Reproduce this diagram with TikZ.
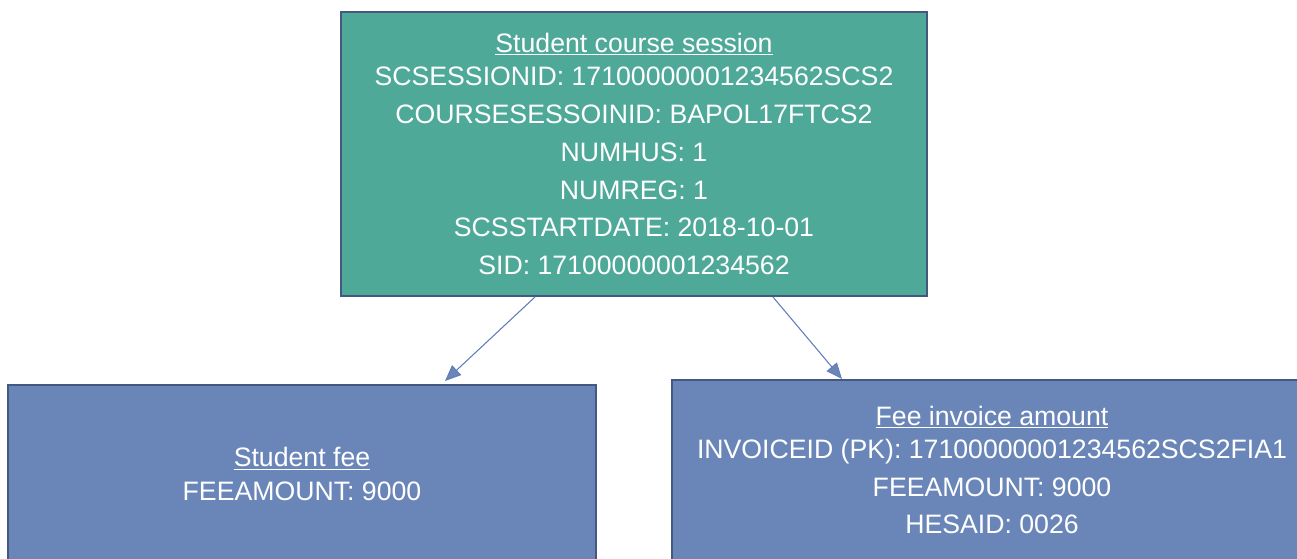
\documentclass[tikz,border=0pt]{standalone}
\usepackage{fontspec}
\setmainfont{Liberation Sans}
\usetikzlibrary{arrows.meta,calc}
\definecolor{tealfill}{RGB}{78,169,153}
\definecolor{bluefill}{RGB}{106,134,184}
\definecolor{boxline}{RGB}{68,88,130}
\definecolor{linkline}{RGB}{96,126,186}
\tikzset{
  entity/.style={draw=boxline,line width=1.5pt,text=white,align=center,
    font=\fontsize{20}{25}\selectfont,inner sep=0pt},
  link/.style={draw=linkline,line width=0.8pt,
    -{Triangle[length=12pt,width=10pt,fill=bluefill]}},
}

\begin{document}
\begin{tikzpicture}[x=0.75pt,y=0.75pt,yscale=-1,xscale=1]
\useasboundingbox (0,0) rectangle (1297,558);
\clip (0,0) rectangle (1297,558);

%Shape: Rectangle [Student course session]
\node[entity,fill=tealfill,minimum width=439.5pt,minimum height=213pt] (scs) at (634,154)
  {\underline{Student course session}\\
   SCSESSIONID: 17100000001234562SCS2\\[3.3pt]
   COURSESESSOINID: BAPOL17FTCS2\\[3.3pt]
   NUMHUS: 1\\[3.3pt]
   NUMREG: 1\\[3.3pt]
   SCSSTARTDATE: 2018-10-01\\[3.3pt]
   SID: 17100000001234562};
%Shape: Rectangle [Student fee]
\node[entity,fill=bluefill,minimum width=441pt,minimum height=133.5pt] (fee) at (302,474)
  {\underline{Student fee}\\
   FEEAMOUNT: 9000};
%Shape: Rectangle [Fee invoice amount]
\node[entity,fill=bluefill,minimum width=480pt,minimum height=135pt] (inv) at (992,470)
  {\underline{Fee invoice amount}\\
   INVOICEID (PK): 17100000001234562SCS2FIA1\\[3.3pt]
   FEEAMOUNT: 9000\\[3.3pt]
   HESAID: 0026};

%Straight Lines
\draw[link] ($(scs.south)+(-99,0)$) -- ($(fee.north)+(143,-3)$);
\draw[link] ($(scs.south)+(139,0)$) -- ($(inv.north)+(-150,0)$);
\end{tikzpicture}
\end{document}
